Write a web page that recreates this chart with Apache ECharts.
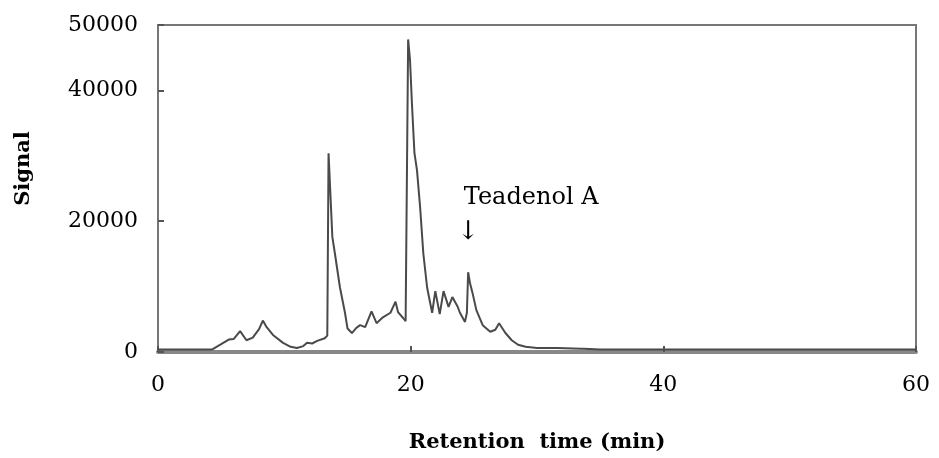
<!DOCTYPE html>
<html>
<head>
<meta charset="utf-8">
<script src="https://cdn.jsdelivr.net/npm/echarts@6/dist/echarts.min.js"></script>
<style>
  html, body { margin: 0; padding: 0; background: #fff; }
  #chart { width: 939px; height: 458px; }
</style>
</head>
<body>
<div id="chart"></div>
<script>
// Retention time (min)
var times = [0, 4.3, 5.0, 5.6, 6.0, 6.5, 7.0, 7.5, 8.0, 8.3, 8.6, 9.1, 9.9, 10.5, 11.0, 11.5, 11.8, 12.2, 12.6, 13.2, 13.4,
  13.5, 13.65, 13.8, 14.0, 14.4, 14.8, 15.0, 15.35, 15.7, 16.0, 16.4, 16.9, 17.3, 17.8, 18.4, 18.8, 19.0, 19.4, 19.6,
  19.8, 19.95, 20.1, 20.3, 20.5, 20.75, 21.0, 21.3, 21.45, 21.7, 21.95, 22.3, 22.6, 23.0, 23.3, 23.7, 23.9, 24.3, 24.45,
  24.55, 24.7, 24.9, 25.2, 25.7, 26.3, 26.7, 27.0, 27.5, 28.0, 28.5, 29.1, 30.0, 31.6, 31.7, 33.5, 33.6, 33.7, 35, 60];
// Signal
var signal = [400, 400, 1200, 1900, 2000, 3200, 1800, 2200, 3500, 4800, 3800, 2600, 1400, 800, 600, 900, 1400, 1300, 1700, 2100, 2500,
  30400, 24000, 17600, 15100, 9900, 6000, 3600, 2900, 3700, 4100, 3800, 6200, 4400, 5300, 6000, 7700, 6100, 5200, 4700,
  47800, 44600, 38000, 30400, 27800, 22100, 15100, 9900, 8400, 6000, 9300, 5800, 9300, 6900, 8400, 7000, 6000, 4600, 6000,
  12200, 10500, 9000, 6400, 4100, 3100, 3400, 4400, 2900, 1800, 1100, 800, 600, 600, 500, 500, 700, 500, 400, 400];
var xTicks = [0, 20, 40, 60];
var yTicks = [0, 20000, 40000, 50000];
var annotationText = 'Teadenol A';
var annotationAt = [24.55, 12200];

var FONT = 'DejaVu Serif';
var chart = echarts.init(document.getElementById('chart'), null, { renderer: 'canvas' });
var pts = times.map(function (t, i) { return [t, signal[i]]; });

chart.setOption({
  animation: false,
  backgroundColor: '#fff',
  grid: { left: 158, right: 23, top: 25, bottom: 106, show: true, borderColor: '#777', borderWidth: 2, backgroundColor: '#fff' },
  xAxis: {
    type: 'value', min: 0, max: 60, interval: 20,
    name: 'Retention  time (min)', nameLocation: 'middle', nameGap: 80,
    nameTextStyle: { fontFamily: FONT, fontWeight: 'bold', fontSize: 21, color: '#000' },
    axisLine: { show: true, onZero: false, lineStyle: { color: '#888', width: 4 } },
    axisTick: { show: true, inside: true, length: 6, customValues: xTicks, lineStyle: { color: '#555', width: 2 } },
    axisLabel: { customValues: xTicks, formatter: function (v) { return String(v); }, fontFamily: FONT, fontSize: 22, color: '#000', margin: 22 },
    splitLine: { show: false }
  },
  yAxis: {
    type: 'value', min: 0, max: 50000, interval: 10000,
    name: 'Signal', nameLocation: 'middle', nameGap: 124, nameRotate: 90,
    nameTextStyle: { fontFamily: FONT, fontWeight: 'bold', fontSize: 21, color: '#000', padding: [0, 0, 0, 40] },
    axisLine: { show: true, lineStyle: { color: '#777', width: 2 } },
    axisTick: { show: true, inside: true, length: 6, customValues: yTicks, lineStyle: { color: '#555', width: 2 } },
    axisLabel: { customValues: yTicks, formatter: function (v) { return String(v); }, fontFamily: FONT, fontSize: 22, color: '#000', margin: 20 },
    splitLine: { show: false }
  },
  series: [{
    type: 'line',
    data: pts,
    symbol: 'none',
    lineStyle: { color: '#4a4a4a', width: 2 },
    markPoint: {
      symbol: 'circle', symbolSize: 0, silent: true,
      data: [
        { coord: annotationAt, label: { show: true, formatter: '↓', position: 'top', distance: 0, offset: [0, -27],
          fontFamily: FONT, fontSize: 26, color: '#000' } },
        { coord: annotationAt, label: { show: true, formatter: annotationText, position: 'top', distance: 0, offset: [63, -62],
          fontFamily: FONT, fontSize: 24, color: '#000' } }
      ]
    }
  }]
});
</script>
</body>
</html>
